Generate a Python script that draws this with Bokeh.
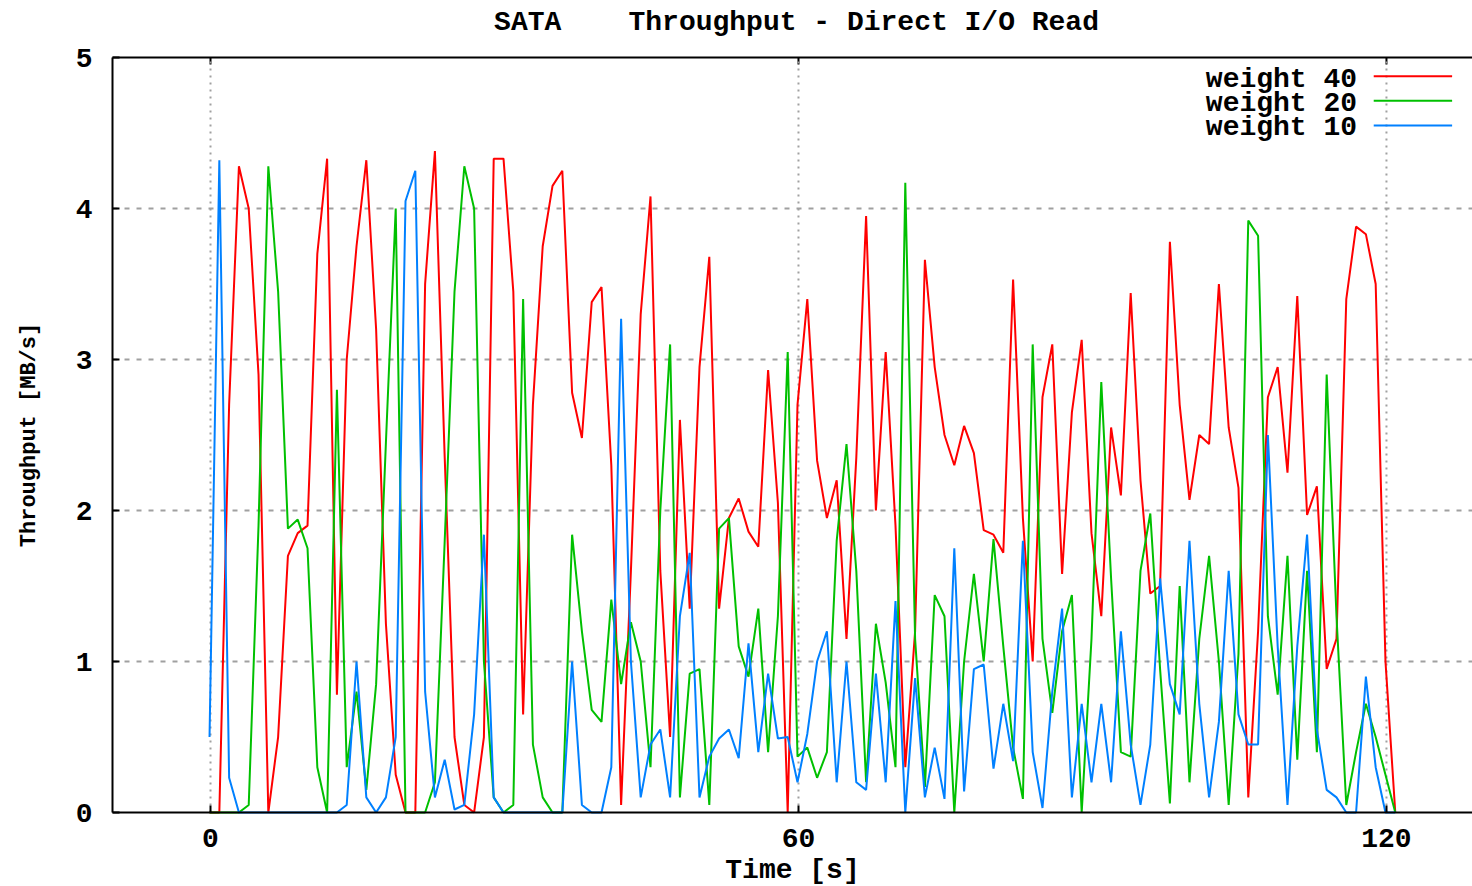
from bokeh.plotting import figure
from bokeh.models import Range1d, Label, FixedTicker, LinearAxis
from bokeh.embed import file_html
from bokeh.resources import INLINE

# Per-second throughput samples (MB/s) for the three cgroup weights
weight40 = [
    0, 0, 2.7, 4.28, 4.0, 2.9, 0, 0.5, 1.7, 1.85,
    1.9, 3.7, 4.33, 0.78, 3.0, 3.75, 4.32, 3.2, 1.25, 0.25,
    0.0, 0.0, 3.5, 4.38, 2.35, 0.5, 0.05, 0, 0.5, 4.33,
    4.33, 3.45, 0.65, 2.7, 3.75, 4.15, 4.25, 2.78, 2.48, 3.38,
    3.48, 2.3, 0.05, 1.6, 3.3, 4.08, 1.6, 0.5, 2.6, 1.35,
    2.95, 3.68, 1.35, 1.95, 2.08, 1.86, 1.76, 2.93, 2.05, 0,
    2.7, 3.4, 2.33, 1.95, 2.2, 1.15, 2.35, 3.95, 2.0, 3.05,
    1.9, 0.3, 1.2, 3.66, 2.95, 2.5, 2.3, 2.56, 2.38, 1.87,
    1.84, 1.72, 3.53, 1.95, 1.0, 2.75, 3.1, 1.58, 2.65, 3.13,
    1.85, 1.3, 2.55, 2.1, 3.44, 2.2, 1.45, 1.5, 3.78, 2.7,
    2.07, 2.5, 2.44, 3.5, 2.55, 2.15, 0.1, 1.2, 2.75, 2.95,
    2.25, 3.42, 1.97, 2.16, 0.95, 1.15, 3.4, 3.88, 3.83, 3.5,
    1.0, 0,
]
weight20 = [
    0, 0, 0, 0, 0.05, 1.9, 4.28, 3.45, 1.88, 1.94,
    1.75, 0.3, 0, 2.8, 0.3, 0.8, 0.15, 0.85, 2.45, 4.0,
    0, 0, 0.0, 0.2, 1.8, 3.45, 4.28, 4.0, 1.0, 0.1,
    0, 0.05, 3.4, 0.45, 0.1, 0, 0, 1.84, 1.2, 0.68,
    0.6, 1.41, 0.85, 1.26, 1.0, 0.3, 2.0, 3.1, 0.1, 0.92,
    0.95, 0.05, 1.88, 1.95, 1.1, 0.9, 1.35, 0.4, 1.3, 3.05,
    0.37, 0.43, 0.23, 0.4, 1.8, 2.44, 1.6, 0.2, 1.25, 0.86,
    0.3, 4.17, 1.15, 0.17, 1.44, 1.3, 0.0, 1.0, 1.58, 1.0,
    1.81, 1.1, 0.43, 0.09, 3.1, 1.15, 0.66, 1.2, 1.44, 0.0,
    1.15, 2.85, 1.55, 0.4, 0.37, 1.6, 1.98, 0.95, 0.06, 1.5,
    0.2, 1.15, 1.7, 1.0, 0.05, 1.05, 3.92, 3.82, 1.3, 0.78,
    1.7, 0.35, 1.6, 0.4, 2.9, 1.3, 0.05, 0.4, 0.72, 0.5,
    0.25, 0,
]
weight10 = [
    0.5, 4.32, 0.23, 0, 0, 0, 0, 0, 0, 0,
    0, 0, 0, 0, 0.05, 1.0, 0.1, 0.0, 0.1, 0.5,
    4.05, 4.25, 0.8, 0.1, 0.35, 0.02, 0.05, 0.65, 1.84, 0.1,
    0, 0, 0, 0, 0, 0, 0, 1.0, 0.05, 0,
    0, 0.3, 3.27, 1.0, 0.1, 0.45, 0.55, 0.1, 1.3, 1.72,
    0.1, 0.37, 0.49, 0.55, 0.36, 1.12, 0.4, 0.92, 0.49, 0.5,
    0.2, 0.52, 1.0, 1.2, 0.2, 1.0, 0.2, 0.15, 0.92, 0.2,
    1.4, 0.0, 0.89, 0.1, 0.43, 0.09, 1.75, 0.14, 0.95, 0.98,
    0.29, 0.72, 0.34, 1.8, 0.4, 0.03, 0.8, 1.35, 0.1, 0.72,
    0.2, 0.72, 0.2, 1.2, 0.45, 0.05, 0.45, 1.55, 0.85, 0.65,
    1.8, 0.72, 0.1, 0.6, 1.6, 0.65, 0.45, 0.45, 2.5, 1.1,
    0.05, 1.1, 1.84, 0.55, 0.15, 0.1, 0.0, 0.0, 0.9, 0.3,
    0, 0,
]

# sample timestamps: one per second, first sample just before t=0
time_s = [round(i - 0.1, 1) for i in range(len(weight40))]

series = [
    ("weight 40", weight40, "#ff0000"),
    ("weight 20", weight20, "#00c000"),
    ("weight 10", weight10, "#0080ff"),
]

x_ticks = [0, 60, 120]
y_ticks = [0, 1, 2, 3, 4, 5]
x_lo, y_lo, y_hi = -10, 0, 5          # plotted box: time from -10 s, 0..5 MB/s

FONT = "Liberation Mono"
BIG = "28px"

# the visible range also covers the margins; the axes are pinned to the box
# edges with fixed_location so the texts around the box are not clipped
p = figure(
    width=1472, height=886,
    output_backend="svg", toolbar_location=None, title_location=None,
    x_axis_type=None, y_axis_type=None,
    x_range=Range1d(-21.43, 128.78), y_range=Range1d(-0.49, 5.3775),
    min_border=0, min_border_left=0, min_border_right=0,
    min_border_top=0, min_border_bottom=0,
    background_fill_color="white", border_fill_color="white",
)
p.outline_line_color = None
x_hi = p.x_range.end

bottom_axis = LinearAxis(fixed_location=y_lo, bounds=(x_lo, x_hi),
                         ticker=FixedTicker(ticks=x_ticks))
left_axis = LinearAxis(fixed_location=x_lo, bounds=(y_lo, y_hi),
                       ticker=FixedTicker(ticks=y_ticks))
p.add_layout(bottom_axis, "below")
p.add_layout(left_axis, "left")

for ax in (bottom_axis, left_axis):
    ax.axis_line_color = "black"
    ax.axis_line_width = 2
    ax.major_tick_in = 7
    ax.major_tick_out = 0
    ax.major_tick_line_width = 2
    ax.minor_tick_line_color = None
    ax.major_label_text_font = FONT
    ax.major_label_text_font_style = "bold"
    ax.major_label_text_font_size = BIG
    ax.major_label_text_color = "black"
    ax.axis_label_text_font = FONT
    ax.axis_label_text_font_style = "bold"
    ax.axis_label_text_color = "black"

bottom_axis.axis_label = "Time [s]"
bottom_axis.major_label_standoff = 16
bottom_axis.axis_label_standoff = 5
bottom_axis.axis_label_text_font_size = BIG

left_axis.axis_label = "Throughput [MB/s]"
left_axis.major_label_standoff = 20
left_axis.axis_label_standoff = 31
left_axis.axis_label_text_font_size = "22px"

# top border with mirrored x ticks pointing down
tick_len = 7 / 151
p.segment(x0=[x_lo], y0=[y_hi], x1=[x_hi], y1=[y_hi], line_color="black", line_width=2)
p.segment(x0=x_ticks, y0=[y_hi] * 3, x1=x_ticks, y1=[y_hi - tick_len] * 3,
          line_color="black", line_width=2)

# dotted grid inside the box only
p.segment(x0=x_ticks, y0=[y_lo] * 3, x1=x_ticks, y1=[y_hi] * 3,
          line_color="#a0a0a0", line_width=2, line_dash="2 5")
grid_y = y_ticks[1:-1]
p.segment(x0=[x_lo] * len(grid_y), y0=grid_y, x1=[x_hi] * len(grid_y), y1=grid_y,
          line_color="#a0a0a0", line_width=2, line_dash="5 7")

for name, vals, color in series:
    p.line(time_s, vals, line_color=color, line_width=2)


def add_text(x, y, text, size=BIG, align="center"):
    p.add_layout(Label(
        x=x, y=y, text=text,
        text_align=align, text_baseline="middle",
        text_font=FONT, text_font_style="bold",
        text_font_size=size, text_color="black",
    ))


add_text(59.8, 5.235, "SATA\u00a0\u00a0\u00a0\u00a0Throughput - Direct I/O Read")

# key in the upper right: text first, then a line sample
key_text_right = 117.0
key_line = (118.7, 126.7)
key_text_rows = [4.855, 4.696, 4.537]
key_line_rows = [4.876, 4.713, 4.55]
for (name, vals, color), ty, ly in zip(series, key_text_rows, key_line_rows):
    add_text(key_text_right, ty, name, align="right")
    p.line(list(key_line), [ly, ly], line_color=color, line_width=2)

open("out.html", "w").write(file_html(p, INLINE))
